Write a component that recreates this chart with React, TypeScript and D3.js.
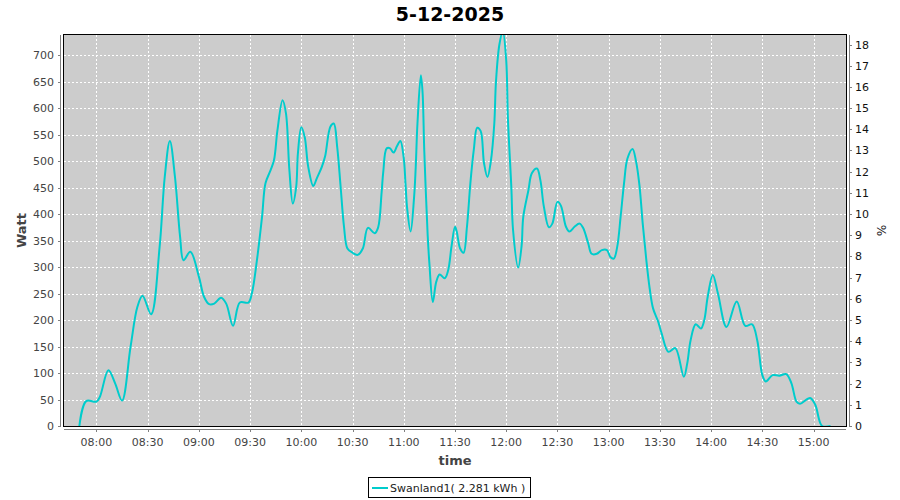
import React from "react";
import * as d3 from "d3";

const times = [
  "07:50","07:54","08:00","08:02","08:07","08:11","08:15","08:20","08:24","08:27",
  "08:32","08:37","08:40","08:43","08:46","08:49","08:51","08:55","09:00","09:03",
  "09:06","09:09","09:13","09:16","09:20","09:24","09:29","09:31","09:34","09:37",
  "09:39","09:42","09:44","09:46","09:49","09:51","09:53","09:55","09:57","09:58",
  "10:00","10:02","10:04","10:07","10:09","10:12","10:14","10:17","10:19","10:21",
  "10:23","10:25","10:27","10:30","10:33","10:36","10:39","10:43","10:45","10:47",
  "10:48","10:50","10:52","10:54","10:56","10:58","11:00","11:01","11:02","11:04",
  "11:06","11:07","11:08","11:10","11:11","11:12","11:14","11:15","11:17","11:19",
  "11:21","11:24","11:26","11:28","11:30","11:31","11:33","11:35","11:37","11:39",
  "11:41","11:43","11:45","11:47","11:49","11:51","11:53","11:54","11:56","11:58",
  "12:00","12:01","12:03","12:04","12:07","12:09","12:10","12:13","12:15","12:18",
  "12:20","12:22","12:25","12:27","12:30","12:32","12:35","12:37","12:40","12:43",
  "12:45","12:48","12:50","12:53","12:56","12:59","13:01","13:03","13:05","13:07",
  "13:09","13:11","13:14","13:16","13:18","13:20","13:22","13:24","13:26","13:29",
  "13:31","13:35","13:39","13:44","13:46","13:48","13:51","13:54","13:56","13:58",
  "14:01","14:04","14:09","14:15","14:20","14:24","14:27","14:30","14:32","14:36",
  "14:40","14:44","14:47","14:50","14:52","14:58","15:01","15:05","15:10"
];

const watts = [
  0, 47, 46, 55, 105, 80, 48, 150, 225, 246,
  211, 338, 470, 538, 470, 357, 313, 329, 282, 244,
  230, 231, 242, 231, 189, 233, 233, 250, 313, 395,
  458, 483, 502, 558, 615, 590, 483, 420, 452, 515,
  564, 545, 490, 453, 467, 489, 510, 565, 571, 527,
  452, 376, 335, 327, 323, 335, 374, 364, 375, 440,
  480, 524, 524, 516, 528, 538, 505, 458, 410, 367,
  430, 489, 570, 662, 630, 520, 360, 307, 234, 272,
  286, 279, 294, 340, 376, 367, 335, 327, 376, 458,
  521, 563, 557, 496, 470, 500, 570, 650, 720, 745,
  690, 580, 450, 370, 299, 340, 395, 445, 477, 486,
  464, 415, 375, 382, 423, 416, 376, 367, 376, 382,
  374, 345, 325, 325, 332, 332, 319, 316, 338, 395,
  458, 505, 523, 500, 455, 380, 315, 260, 222, 197,
  175, 140, 147, 93, 118, 162, 192, 184, 200, 244,
  285, 250, 187, 235, 189, 192, 162, 96, 84, 96,
  95, 98, 81, 46, 42, 53, 40, 0, 0
];

const wattTicks = [0, 50, 100, 150, 200, 250, 300, 350, 400, 450, 500, 550, 600, 650, 700];
const pctTicks = [0, 1, 2, 3, 4, 5, 6, 7, 8, 9, 10, 11, 12, 13, 14, 15, 16, 17, 18];
const timeTicks = ["08:00","08:30","09:00","09:30","10:00","10:30","11:00","11:30","12:00","12:30","13:00","13:30","14:00","14:30","15:00"];

const title = "5-12-2025";
const seriesName = "Swanland1( 2.281 kWh )";
const xDomain = ["07:41", "15:19"];
const wattMax = 738;
const pctMax = 18.45;

const toMin = (s: string) => {
  const [h, m] = s.split(":").map(Number);
  return h * 60 + m;
};

export default function App() {
  const W = 900, H = 500;
  const left = 64, right = 846, top = 35, bottom = 426;
  const font = "'DejaVu Sans', sans-serif";
  const lineColor = "#00CCCC";

  const x = d3.scaleLinear().domain(xDomain.map(toMin)).range([left, right]);
  const y = d3.scaleLinear().domain([0, wattMax]).range([bottom, top]);
  const yp = d3.scaleLinear().domain([0, pctMax]).range([bottom, top]);

  const data = times.map((t, i) => ({ t: toMin(t), v: watts[i] }));
  const line = d3
    .line<{ t: number; v: number }>()
    .x((d) => x(d.t))
    .y((d) => y(d.v))
    .curve(d3.curveCatmullRom.alpha(0.5));

  return (
    <div style={{ position: "absolute", left: 0, top: 0 }}>
      <svg width={W} height={H} style={{ display: "block", background: "#fff" }}>
        <defs>
          <clipPath id="plotclip">
            <rect x={left} y={top} width={right - left} height={bottom - top} />
          </clipPath>
        </defs>
        <text x={450} y={21} textAnchor="middle" fontFamily={font} fontWeight="bold" fontSize={19} fill="#000">
          {title}
        </text>

        <rect x={left} y={top} width={right - left} height={bottom - top} fill="#CCCCCC" />

        {wattTicks.map((v) => (
          <line key={"gh" + v} x1={left} x2={right} y1={Math.round(y(v)) + 0.5} y2={Math.round(y(v)) + 0.5}
            stroke="#fff" strokeWidth={1} strokeDasharray="2,2" />
        ))}
        {timeTicks.map((t) => (
          <line key={"gv" + t} x1={Math.round(x(toMin(t))) + 0.5} x2={Math.round(x(toMin(t))) + 0.5} y1={top} y2={bottom}
            stroke="#fff" strokeWidth={1} strokeDasharray="2,2" />
        ))}

        <path d={line(data) || ""} fill="none" stroke={lineColor} strokeWidth={2} clipPath="url(#plotclip)" strokeLinejoin="round" />

        <rect x={left - 0.5} y={top - 0.5} width={right - left + 1} height={bottom - top + 1} fill="none" stroke="#000" strokeWidth={1} />

        {/* left axis */}
        <line x1={60.5} x2={60.5} y1={top} y2={bottom} stroke="#808080" />
        {wattTicks.map((v) => (
          <g key={"lt" + v}>
            <line x1={58} x2={61} y1={Math.round(y(v)) + 0.5} y2={Math.round(y(v)) + 0.5} stroke="#808080" />
            <text x={54} y={y(v) + 4} textAnchor="end" fontFamily={font} fontSize={11} fill="#444">{v}</text>
          </g>
        ))}
        <text transform={`translate(26,${(top + bottom) / 2}) rotate(-90)`} textAnchor="middle" fontFamily={font}
          fontWeight="bold" fontSize={13} fill="#444">Watt</text>

        {/* right axis */}
        <line x1={849.5} x2={849.5} y1={top} y2={bottom} stroke="#808080" />
        {pctTicks.map((v) => (
          <g key={"rt" + v}>
            <line x1={849} x2={852} y1={Math.round(yp(v)) + 0.5} y2={Math.round(yp(v)) + 0.5} stroke="#808080" />
            <text x={855} y={yp(v) + 4} textAnchor="start" fontFamily={font} fontSize={11} fill="#111">{v}</text>
          </g>
        ))}
        <text transform={`translate(877,${(top + bottom) / 2}) rotate(90)`} textAnchor="middle" fontFamily={font}
          fontSize={12} fill="#222">%</text>

        {/* bottom axis */}
        <line x1={left} x2={right} y1={429.5} y2={429.5} stroke="#808080" />
        {timeTicks.map((t) => (
          <g key={"bt" + t}>
            <line x1={Math.round(x(toMin(t))) + 0.5} x2={Math.round(x(toMin(t))) + 0.5} y1={430} y2={432} stroke="#808080" />
            <text x={x(toMin(t))} y={446} textAnchor="middle" fontFamily={font} fontSize={11} fill="#444">{t}</text>
          </g>
        ))}
        <text x={(left + right) / 2} y={465} textAnchor="middle" fontFamily={font} fontWeight="bold" fontSize={13} fill="#444">
          time
        </text>

        {/* legend */}
        <rect x={368.5} y={477.5} width={162} height={20} fill="#fff" stroke="#000" />
        <line x1={372} x2={388} y1={488} y2={488} stroke={lineColor} strokeWidth={2} />
        <text x={390} y={492} fontFamily={font} fontSize={11} fill="#222">{seriesName}</text>
      </svg>
    </div>
  );
}
